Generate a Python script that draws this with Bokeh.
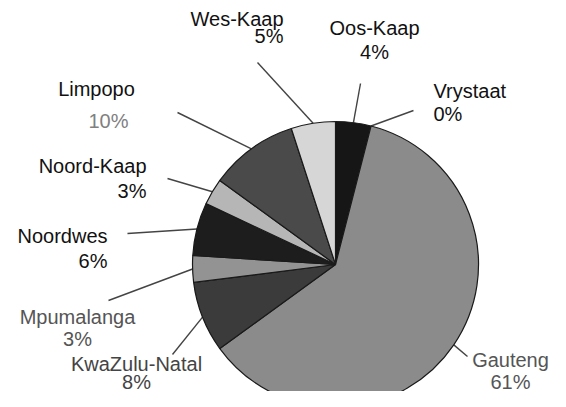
import math
from bokeh.plotting import figure
from bokeh.models import Range1d, ColumnDataSource
from bokeh.core.properties import value
from bokeh.embed import file_html
from bokeh.resources import INLINE

# ---- data ----
provinces = ["Oos-Kaap", "Vrystaat", "Gauteng", "KwaZulu-Natal", "Mpumalanga",
             "Noordwes", "Noord-Kaap", "Limpopo", "Wes-Kaap"]
percent = [4, 0, 61, 8, 3, 6, 3, 10, 5]
slice_colors = ["#161616", "#777777", "#8b8b8b", "#3b3b3b", "#939393",
                "#1d1d1d", "#b6b6b6", "#4a4a4a", "#d6d6d6"]

# ---- layout (reference pixel coordinates; y downward; y = text baseline) ----
W, H = 550, 391
CX, CY, R = 335, 264, 143
MID = 7  # baseline -> vertical middle of text
name_pos = {
    "Oos-Kaap": (374, 34, "center"), "Vrystaat": (433, 97, "left"),
    "Gauteng": (510, 366, "center"), "KwaZulu-Natal": (136, 370, "center"),
    "Mpumalanga": (77, 323, "center"), "Noordwes": (107, 242, "right"),
    "Noord-Kaap": (146, 172, "right"), "Limpopo": (96, 95, "center"),
    "Wes-Kaap": (283, 25, "right"),
}
pct_pos = {
    "Oos-Kaap": (374, 58, "center"), "Vrystaat": (433, 120, "left"),
    "Gauteng": (510, 388, "center"), "KwaZulu-Natal": (136, 388, "center"),
    "Mpumalanga": (77, 345, "center"), "Noordwes": (107, 267, "right"),
    "Noord-Kaap": (146, 197, "right"), "Limpopo": (108, 127, "center"),
    "Wes-Kaap": (283, 42, "right"),
}
name_color = {"Gauteng": "#555555", "KwaZulu-Natal": "#444444", "Mpumalanga": "#555555"}
pct_color = {"Gauteng": "#555555", "KwaZulu-Natal": "#444444", "Mpumalanga": "#555555",
             "Limpopo": "#808080"}
leader_out = {
    "Oos-Kaap": (360, 83), "Vrystaat": (413, 110), "Gauteng": (467, 356),
    "KwaZulu-Natal": (172, 354), "Mpumalanga": (108, 300), "Noordwes": (127, 233),
    "Noord-Kaap": (167, 178), "Limpopo": (177, 112), "Wes-Kaap": (257, 62),
}

p = figure(width=W, height=H, output_backend="svg", toolbar_location=None,
           x_range=Range1d(0, W), y_range=Range1d(-H, 0), min_border=0)
p.axis.visible = False
p.grid.visible = False
p.outline_line_color = None
p.background_fill_color = "white"

total = float(sum(percent))
cum = 0.0
starts, ends, cols, mids = [], [], [], []
for name, v, c in zip(provinces, percent, slice_colors):
    c0 = cum / total
    c1 = (cum + v) / total
    cum += v
    mids.append(math.pi / 2 - 2 * math.pi * (c0 + c1) / 2)
    if v > 0:
        starts.append(math.pi / 2 - 2 * math.pi * c1)
        ends.append(math.pi / 2 - 2 * math.pi * c0)
        cols.append(c)

# leader lines
xs, ys = [], []
for name, a in zip(provinces, mids):
    ox, oy = leader_out[name]
    xs.append([ox, CX + R * math.cos(a)])
    ys.append([-oy, -CY + R * math.sin(a)])
p.multi_line(xs, ys, line_color="#444444", line_width=1.4)

src = ColumnDataSource(dict(start=starts, end=ends, color=cols))
p.wedge(x=CX, y=-CY, radius=R, start_angle="start", end_angle="end",
        fill_color="color", line_color="#1a1a1a", line_width=1.2, source=src)

for name, v in zip(provinces, percent):
    nx, ny, al = name_pos[name]
    p.text([nx], [-(ny - MID)], text=[name], text_align=al, text_baseline="middle",
           text_font=value("Liberation Sans"), text_font_size="20px",
           text_color=name_color.get(name, "#111111"))
    px, py, al2 = pct_pos[name]
    p.text([px], [-(py - MID)], text=[f"{v}%"], text_align=al2, text_baseline="middle",
           text_font=value("Liberation Sans"), text_font_size="20px",
           text_color=pct_color.get(name, name_color.get(name, "#111111")))

open("out.html", "w").write(file_html(p, INLINE))
